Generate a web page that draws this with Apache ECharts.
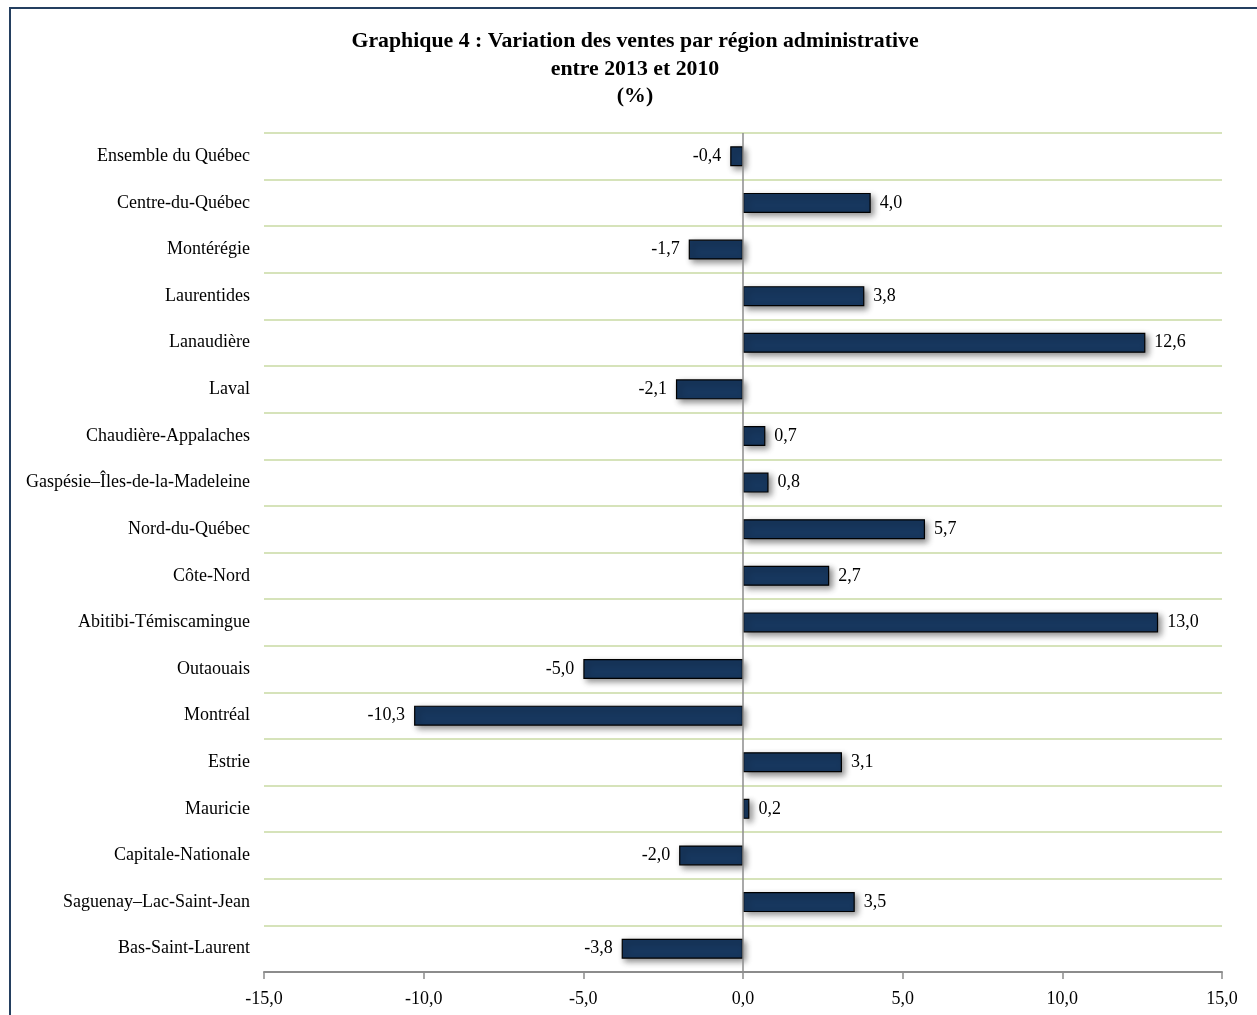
<!DOCTYPE html>
<html>
<head>
<meta charset="utf-8">
<script src="https://cdn.jsdelivr.net/npm/echarts@6/dist/echarts.min.js"></script>
<style>
html,body{margin:0;padding:0;background:#fff;}
#chart{width:1257px;height:1015px;}
</style>
</head>
<body>
<div id="chart"></div>
<script>
const categories = [
  "Ensemble du Québec","Centre-du-Québec","Montérégie","Laurentides","Lanaudière","Laval",
  "Chaudière-Appalaches","Gaspésie–Îles-de-la-Madeleine","Nord-du-Québec","Côte-Nord",
  "Abitibi-Témiscamingue","Outaouais","Montréal","Estrie","Mauricie","Capitale-Nationale",
  "Saguenay–Lac-Saint-Jean","Bas-Saint-Laurent"
];
const values = [-0.4,4.0,-1.7,3.8,12.6,-2.1,0.7,0.8,5.7,2.7,13.0,-5.0,-10.3,3.1,0.2,-2.0,3.5,-3.8];
const xTicks = {min:-15, max:15, interval:5};
const titleLines = ["Graphique 4 : Variation des ventes par région administrative","entre 2013 et 2010","(%)"];

const fmt = v => v.toFixed(1).replace('.', ',');
const FONT = '"Liberation Serif", "Times New Roman", serif';

const chart = echarts.init(document.getElementById('chart'));
chart.setOption({
  animation:false,
  backgroundColor:'#ffffff',
  title:{
    text: titleLines.join('\n'),
    left: 630, top: 23, textAlign:'center',
    textStyle:{fontFamily:FONT,fontWeight:'bold',fontSize:21.8,color:'#000',lineHeight:27.5}
  },
  graphic:[{
    type:'rect', silent:true,
    shape:{x:10,y:8,width:1300,height:1100},
    style:{fill:'none',stroke:'#243f60',lineWidth:2}
  }],
  grid:{left:264,right:35,top:133,bottom:43},
  xAxis:{
    type:'value', min:xTicks.min, max:xTicks.max, interval:xTicks.interval,
    axisLine:{show:true,lineStyle:{color:'#8c8c8c',width:2}},
    axisTick:{show:true,length:7,lineStyle:{color:'#8c8c8c',width:1.5}},
    splitLine:{show:false},
    axisLabel:{fontFamily:FONT,fontSize:18,color:'#000',margin:18,formatter:v=>fmt(v)}
  },
  yAxis:{
    type:'category', data:categories, inverse:true,
    axisLine:{show:false}, axisTick:{show:false},
    splitLine:{show:true,lineStyle:{color:'#c9daa3',width:1.5}},
    axisLabel:{fontFamily:FONT,fontSize:18,color:'#000',margin:14}
  },
  series:[{
    type:'bar',
    barWidth:20,
    data: values.map(v=>({
      value:v,
      label:{position: v<0 ? 'left':'right'}
    })),
    itemStyle:{
      color:'#17375e', borderColor:'#000', borderWidth:1.2,
      shadowColor:'rgba(0,0,0,0.45)', shadowBlur:6, shadowOffsetX:3, shadowOffsetY:3
    },
    label:{show:true,distance:9,fontFamily:FONT,fontSize:18,color:'#000',formatter:p=>fmt(p.value)},
    markLine:{
      silent:true, symbol:'none', label:{show:false},
      lineStyle:{color:'#8c8c8c',type:'solid',width:1.5},
      data:[{xAxis:0}]
    },
    z:3
  }]
});
</script>
</body>
</html>
